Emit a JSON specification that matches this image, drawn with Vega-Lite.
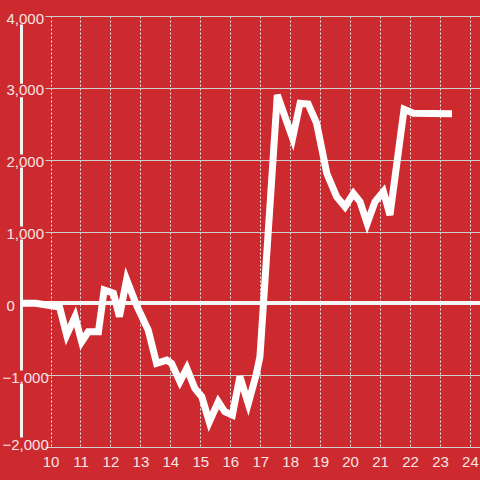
{
  "$schema": "https://vega.github.io/schema/vega-lite/v6.json",
  "width": 459,
  "height": 431,
  "autosize": {"type": "none"},
  "padding": {"left": 21, "top": 16, "right": 0, "bottom": 33},
  "background": "#cc2a2f",
  "config": {"view": {"stroke": null}, "font": "Liberation Sans"},
  "data": {
    "values": [
      {"hour": 9.02, "value": 0},
      {"hour": 9.5, "value": 0},
      {"hour": 10.3, "value": -50},
      {"hour": 10.54, "value": -440},
      {"hour": 10.82, "value": -185},
      {"hour": 11.04, "value": -535},
      {"hour": 11.26, "value": -395},
      {"hour": 11.6, "value": -395},
      {"hour": 11.79, "value": 185},
      {"hour": 12.1, "value": 140},
      {"hour": 12.3, "value": -185},
      {"hour": 12.54, "value": 330},
      {"hour": 12.87, "value": -25},
      {"hour": 13.26, "value": -370},
      {"hour": 13.54, "value": -835},
      {"hour": 13.88, "value": -790},
      {"hour": 14.04, "value": -835},
      {"hour": 14.32, "value": -1090},
      {"hour": 14.55, "value": -905},
      {"hour": 14.82, "value": -1185},
      {"hour": 15.05, "value": -1300},
      {"hour": 15.3, "value": -1650},
      {"hour": 15.6, "value": -1370},
      {"hour": 15.82, "value": -1510},
      {"hour": 16.07, "value": -1555},
      {"hour": 16.32, "value": -1020},
      {"hour": 16.6, "value": -1395},
      {"hour": 16.86, "value": -1000},
      {"hour": 16.99, "value": -745},
      {"hour": 17.57, "value": 2900},
      {"hour": 18.08, "value": 2300},
      {"hour": 18.33, "value": 2785},
      {"hour": 18.6, "value": 2775},
      {"hour": 18.88, "value": 2510},
      {"hour": 19.22, "value": 1810},
      {"hour": 19.55, "value": 1485},
      {"hour": 19.83, "value": 1345},
      {"hour": 20.11, "value": 1530},
      {"hour": 20.33, "value": 1415},
      {"hour": 20.57, "value": 1115},
      {"hour": 20.83, "value": 1415},
      {"hour": 21.11, "value": 1555},
      {"hour": 21.33, "value": 1230},
      {"hour": 21.8, "value": 2700},
      {"hour": 22.11, "value": 2645},
      {"hour": 23.4, "value": 2640}
    ]
  },
  "layer": [
    {
      "mark": {"type": "rule", "color": "#f5f5f5", "strokeWidth": 3},
      "encoding": {"y": {"datum": 0, "type": "quantitative"}}
    },
    {
      "mark": {"type": "line", "color": "#ffffff", "strokeWidth": 7},
      "encoding": {
        "x": {
          "field": "hour",
          "type": "quantitative",
          "scale": {"domain": [9.015, 24.335], "nice": false, "zero": false},
          "axis": {
            "title": null,
            "values": [10, 11, 12, 13, 14, 15, 16, 17, 18, 19, 20, 21, 22, 23, 24],
            "format": "d",
            "domain": false,
            "ticks": false,
            "tickSize": 0,
            "labelPadding": 7,
            "labelFontSize": 15,
            "labelColor": "#f7e4e4",
            "labelFlush": false,
            "labelOverlap": false,
            "grid": true,
            "gridColor": "#e8e8e8",
            "gridDash": [2, 2],
            "gridWidth": 1
          }
        },
        "y": {
          "field": "value",
          "type": "quantitative",
          "scale": {"domain": [-2000, 4000], "nice": false},
          "axis": {
            "title": null,
            "values": [-2000, -1500, -1000, -500, 0, 500, 1000, 1500, 2000, 2500, 3000, 3500, 4000],
            "labelExpr": "datum.value % 1000 === 0 ? datum.label : ''",
            "ticks": false,
            "tickSize": 0,
            "labelAlign": "left",
            "labelPadding": {"condition": {"test": "datum.value < 0", "value": 19}, "value": 15},
            "labelBaseline": {"condition": {"test": "datum.value === -2000", "value": "alphabetic"}, "value": "middle"},
            "labelOffset": 2,
            "labelFontSize": 15,
            "labelColor": "#f7e4e4",
            "labelOverlap": false,
            "labelFlush": false,
            "domain": true,
            "domainColor": "#f2f2f2",
            "domainWidth": 3,
            "domainDash": [0, 10, 54, 13, 131, 13, 59, 13, 57.3, 13.4, 59.3, 20],
            "domainDashOffset": 0,
            "grid": true,
            "gridColor": "#cfcfcf",
            "gridWidth": 1,
            "gridDash": {"condition": {"test": "datum.value % 1000 === 0", "value": [0, 24, 1000]}, "value": []}
          }
        }
      }
    }
  ]
}
